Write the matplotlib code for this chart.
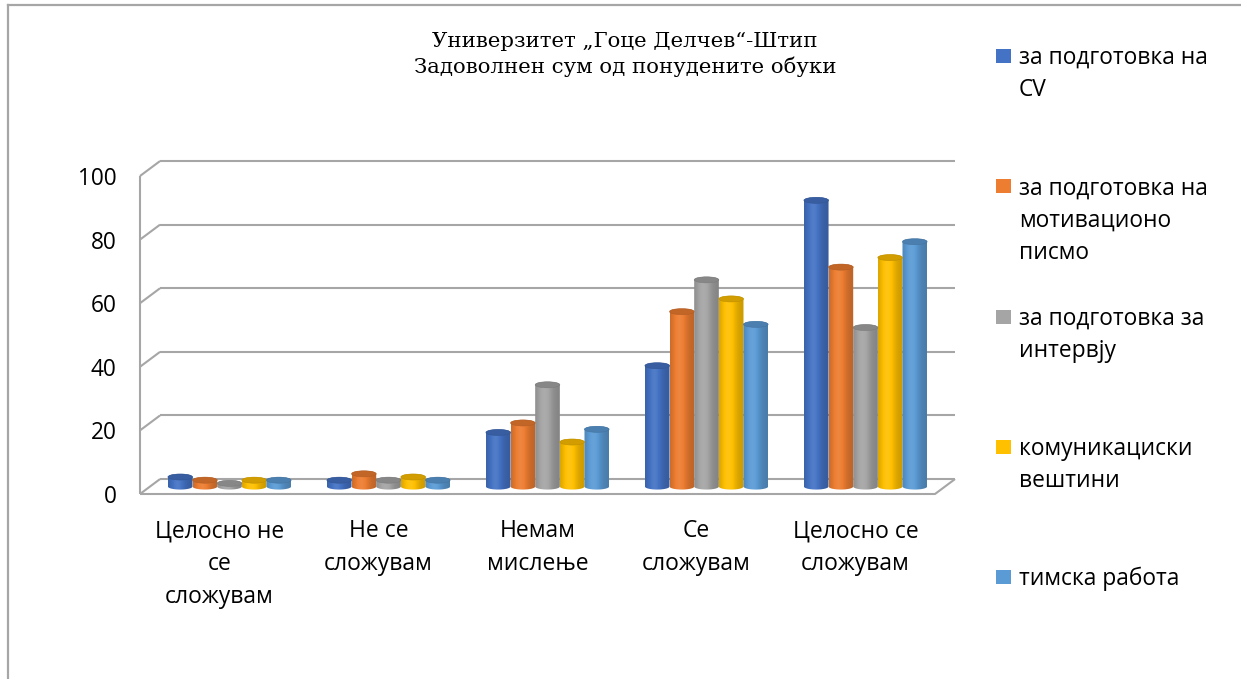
import numpy as np
import matplotlib
matplotlib.use("Agg")
import matplotlib.pyplot as plt
from matplotlib.patches import Ellipse, PathPatch, Rectangle
from matplotlib.path import Path
from matplotlib.colors import to_rgb
from matplotlib.lines import Line2D

# ---- data -------------------------------------------------------------
categories = ["Целосно не се сложувам", "Не се сложувам", "Немам мислење",
              "Се сложувам", "Целосно се сложувам"]
category_lines = [["Целосно не", "се", "сложувам"],
                  ["Не се", "сложувам"],
                  ["Немам", "мислење"],
                  ["Се", "сложувам"],
                  ["Целосно се", "сложувам"]]

series_names = ["за подготовка на CV",
                "за подготовка на мотивационо писмо",
                "за подготовка за интервју",
                "комуникациски вештини",
                "тимска работа"]
series_lines = [["за подготовка на", "CV"],
                ["за подготовка на", "мотивационо", "писмо"],
                ["за подготовка за", "интервју"],
                ["комуникациски", "вештини"],
                ["тимска работа"]]

cv_values = [3, 2, 17, 38, 90]
letter_values = [2, 4, 20, 55, 69]
interview_values = [1, 2, 32, 65, 50]
communication_values = [2, 3, 14, 59, 72]
teamwork_values = [2, 2, 18, 51, 77]
series_values = [cv_values, letter_values, interview_values,
                 communication_values, teamwork_values]

y_ticks = [0, 20, 40, 60, 80, 100]
colors = ["#4472C4", "#ED7D31", "#A5A5A5", "#FFC000", "#5B9BD5"]

title_lines = ["Универзитет „Гоце Делчев“-Штип",
               "Задоволнен сум од понудените обуки"]

# ---- style ------------------------------------------------------------
SANS = ["Open Sans", "DejaVu Sans"]
SERIF = ["DejaVu Serif"]
GRID = "#A6A6A6"
W, H = 1241, 679

fig = plt.figure(figsize=(W / 100, H / 100), dpi=100)
fig.patch.set_facecolor("white")

# chart frame (top and left edges)
fig.add_artist(Line2D([7.5 / W, 7.5 / W], [0, 1 - 5 / H], color="#A6A6A6", lw=1.6))
fig.add_artist(Line2D([7.5 / W, 1], [1 - 5 / H, 1 - 5 / H], color="#A6A6A6", lw=1.6))

ax = fig.add_axes([140 / W, (H - 494) / H, 795 / W, 318 / H])
ax.set_xlim(-0.5, len(categories) - 0.5)
ax.set_ylim(0, 100)
for s in ax.spines.values():
    s.set_visible(False)
ax.set_xticks([])
ax.set_yticks(y_ticks)
ax.set_yticklabels([str(v) for v in y_ticks], family=SANS, fontsize=16.3)
ax.tick_params(axis="y", length=0, pad=17)

# depth of the 3-D box in data units
DX = 0.126
DY = 4.7
x0, x1 = -0.5, len(categories) - 0.5

# walls and gridlines
line_kw = dict(color=GRID, lw=1.5, clip_on=False, solid_capstyle="butt", zorder=1)
for v in y_ticks:
    ax.plot([x0, x0 + DX], [v, v + DY], **line_kw)
    ax.plot([x0 + DX, x1 + DX], [v + DY, v + DY], **line_kw)
ax.plot([x0, x0], [0, y_ticks[-1]], **line_kw)
ax.plot([x0, x1, x1 + DX], [0, 0, DY], **line_kw)


def shade(rgb, u):
    k = 0.80 + 0.26 * np.exp(-((u - 0.38) / 0.32) ** 2)
    c = np.array(rgb)
    if k <= 1:
        return c * k
    return c + (1 - c) * (k - 1) * 1.2


def cylinder(xc, width, base, top, color, eh, z):
    a, b = width / 2, eh / 2
    rgb = to_rgb(color)
    tb = np.linspace(np.pi, 2 * np.pi, 40)
    tt = np.linspace(0, np.pi, 40)
    verts = np.vstack([
        np.column_stack([xc + a * np.cos(tb), base + b * np.sin(tb)]),
        np.column_stack([xc + a * np.cos(tt), top + b * np.sin(tt)]),
    ])
    verts = np.vstack([verts, verts[:1]])
    path = Path(verts, closed=True)
    patch = PathPatch(path, facecolor="none", edgecolor="none", zorder=z)
    ax.add_patch(patch)
    u = np.linspace(0, 1, 80)
    grad = np.array([shade(rgb, ui) for ui in u])[None, :, :]
    im = ax.imshow(grad, extent=[xc - a, xc + a, base - b, top + b],
                   aspect="auto", origin="lower", zorder=z, interpolation="bilinear")
    im.set_clip_path(patch)
    cap = np.array(rgb) * 0.82
    ax.add_patch(Ellipse((xc, top), width, eh, facecolor=cap,
                         edgecolor=np.array(rgb) * 0.75, lw=0.4, zorder=z + 0.1))


bar_w = 0.155
n = len(series_values)
for j, (vals, col) in enumerate(zip(series_values, colors)):
    for i, v in enumerate(vals):
        xc = i + (j - (n - 1) / 2) * bar_w + DX / 2
        cylinder(xc, bar_w, DY / 2, v + DY / 2, col, 1.9, 3 + j * 0.01 + i * 0.2)

ax.set_xlim(x0, x1)
ax.set_ylim(0, 100)

# category labels under the floor
for i, lines in enumerate(category_lines):
    for k, txt in enumerate(lines):
        ax.annotate(txt, xy=(i, 0), xycoords="data",
                    xytext=(0, -(43 + 33 * k) * 0.72), textcoords="offset points",
                    ha="center", va="baseline", family=SANS, fontsize=16.5,
                    annotation_clip=False)

# title
for k, txt in enumerate(title_lines):
    fig.text(625 / W, 1 - (47 + 26 * k) / H, txt, ha="center", va="baseline",
             family=SERIF, fontsize=15.3, color="black")

# legend
for j, (lines, col) in enumerate(zip(series_lines, colors)):
    base_y = 64 + 130.3 * j
    fig.add_artist(Rectangle((996 / W, 1 - (base_y - 1) / H), 15 / W, 14 / H,
                             facecolor=col, edgecolor="none"))
    for k, txt in enumerate(lines):
        fig.text(1019 / W, 1 - (base_y + 32.5 * k) / H, txt, ha="left",
                 va="baseline", family=SANS, fontsize=16.4, color="black")

fig.savefig("out.png", dpi=100, facecolor="white")
